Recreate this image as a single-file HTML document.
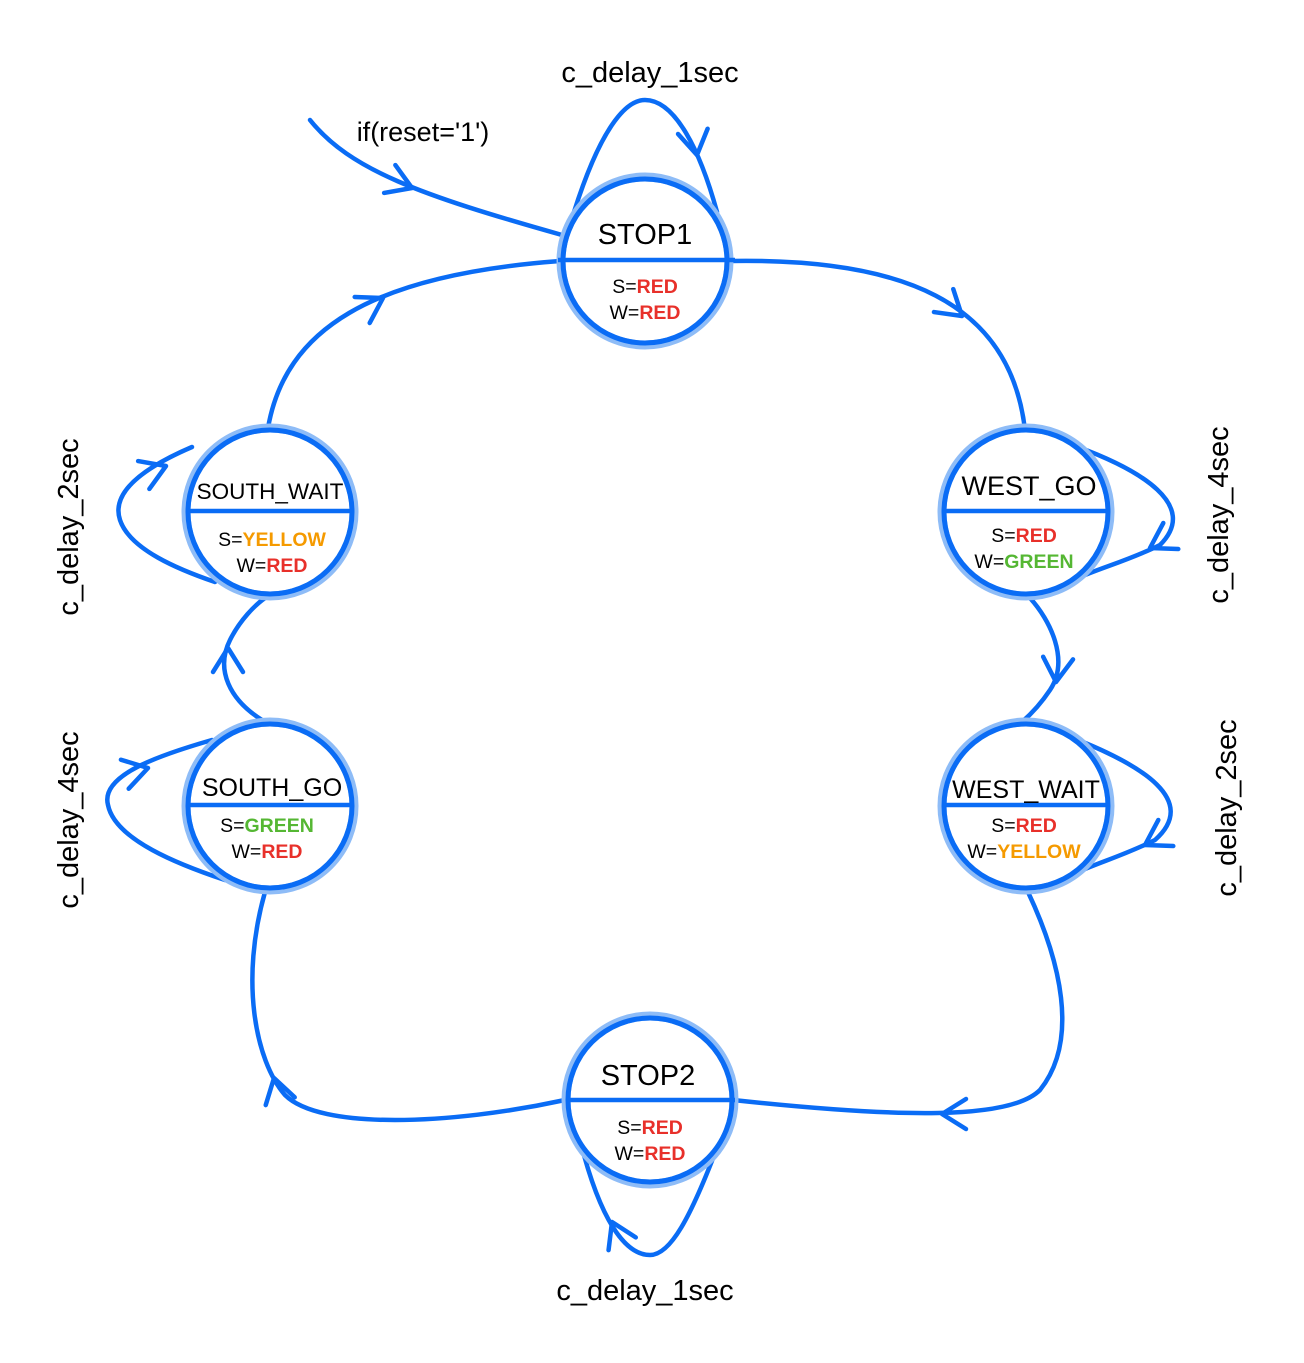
<!DOCTYPE html>
<html><head><meta charset="utf-8"><style>
html,body{margin:0;padding:0;background:#fff}
svg{display:block}
text{font-family:"Liberation Sans",Arial,sans-serif}
</style></head><body>
<svg width="1304" height="1363" viewBox="0 0 1304 1363" xmlns="http://www.w3.org/2000/svg">
<g fill="none" stroke="#0a6cf5" stroke-width="4.5" stroke-linecap="round" stroke-linejoin="round">
<path d="M310,120 C350,170 420,195 562,235"/>
<path d="M574,212 C600,130 625,100 645,100 C675,100 700,150 717,212"/>
<path d="M730,261 C900,258 1010,300 1025,430"/>
<path d="M1078,447 C1140,470 1200,505 1160,545 C1130,560 1100,568 1078,578"/>
<path d="M1030,598 C1050,620 1070,660 1050,690 C1040,705 1030,715 1022,722"/>
<path d="M1078,740 C1140,765 1200,800 1155,840 C1125,855 1100,862 1078,872"/>
<path d="M1028,892 C1060,960 1080,1040 1040,1090 C1010,1120 900,1118 733,1100"/>
<path d="M580,1140 C600,1220 625,1255 650,1255 C670,1255 690,1220 720,1140"/>
<path d="M565,1100 C450,1125 320,1130 285,1095 C255,1060 240,980 265,892"/>
<path d="M212,740 C160,755 100,775 108,805 C115,840 180,865 225,880"/>
<path d="M262,720 C230,700 215,670 230,640 C240,620 255,605 265,598"/>
<path d="M192,447 C150,465 110,490 120,520 C130,550 180,570 215,582"/>
<path d="M268,428 C285,330 370,275 560,261"/>
<g stroke-width="4.5">
<path transform="translate(412,188) rotate(22)" d="M-24,-15 L0,0 L-24,15"/>
<path transform="translate(697,155) rotate(80)" d="M-24,-15 L0,0 L-24,15"/>
<path transform="translate(962,316) rotate(40)" d="M-24,-15 L0,0 L-24,15"/>
<path transform="translate(1150,548) rotate(150)" d="M-24,-15 L0,0 L-24,15"/>
<path transform="translate(1056,682) rotate(95)" d="M-24,-15 L0,0 L-24,15"/>
<path transform="translate(1145,845) rotate(150)" d="M-24,-15 L0,0 L-24,15"/>
<path transform="translate(942,1114) rotate(180)" d="M-24,-15 L0,0 L-24,15"/>
<path transform="translate(612,1222) rotate(-115)" d="M-24,-15 L0,0 L-24,15"/>
<path transform="translate(274,1078) rotate(-105)" d="M-24,-15 L0,0 L-24,15"/>
<path transform="translate(148,768) rotate(-15)" d="M-24,-15 L0,0 L-24,15"/>
<path transform="translate(228,648) rotate(-90)" d="M-24,-15 L0,0 L-24,15"/>
<path transform="translate(166,466) rotate(-22)" d="M-24,-15 L0,0 L-24,15"/>
<path transform="translate(383,298) rotate(-30)" d="M-24,-15 L0,0 L-24,15"/>
</g>
</g>
<g fill="#fff">
<circle cx="645" cy="261" r="84" stroke="#8ebcf7" stroke-width="9"/>
<circle cx="645" cy="261" r="82" stroke="#0a6cf5" stroke-width="5" fill="none"/>
<circle cx="1026" cy="512" r="84" stroke="#8ebcf7" stroke-width="9"/>
<circle cx="1026" cy="512" r="82" stroke="#0a6cf5" stroke-width="5" fill="none"/>
<circle cx="1026" cy="806" r="84" stroke="#8ebcf7" stroke-width="9"/>
<circle cx="1026" cy="806" r="82" stroke="#0a6cf5" stroke-width="5" fill="none"/>
<circle cx="650" cy="1100" r="84" stroke="#8ebcf7" stroke-width="9"/>
<circle cx="650" cy="1100" r="82" stroke="#0a6cf5" stroke-width="5" fill="none"/>
<circle cx="270" cy="806" r="84" stroke="#8ebcf7" stroke-width="9"/>
<circle cx="270" cy="806" r="82" stroke="#0a6cf5" stroke-width="5" fill="none"/>
<circle cx="270" cy="512" r="84" stroke="#8ebcf7" stroke-width="9"/>
<circle cx="270" cy="512" r="82" stroke="#0a6cf5" stroke-width="5" fill="none"/>
</g>
<g stroke="#0a6cf5" stroke-width="4.5">
<line x1="558" y1="260" x2="735" y2="260"/>
<line x1="944" y1="511" x2="1108" y2="511"/>
<line x1="944" y1="805" x2="1108" y2="805"/>
<line x1="566" y1="1100" x2="735" y2="1100"/>
<line x1="188" y1="805" x2="352" y2="805"/>
<line x1="188" y1="511" x2="352" y2="511"/>
</g>
<g text-anchor="middle" fill="#000">
<text x="645" y="244" font-size="29">STOP1</text>
<text x="1029" y="495" font-size="27">WEST_GO</text>
<text x="1026" y="798" font-size="25">WEST_WAIT</text>
<text x="648" y="1085" font-size="29">STOP2</text>
<text x="272" y="796" font-size="25">SOUTH_GO</text>
<text x="270" y="499" font-size="22.5">SOUTH_WAIT</text>
<g font-size="19.5">
<text x="645" y="293">S=<tspan fill="#e8302a" font-weight="bold">RED</tspan></text>
<text x="645" y="319">W=<tspan fill="#e8302a" font-weight="bold">RED</tspan></text>
<text x="1024" y="542">S=<tspan fill="#e8302a" font-weight="bold">RED</tspan></text>
<text x="1024" y="568">W=<tspan fill="#55b733" font-weight="bold">GREEN</tspan></text>
<text x="1024" y="832">S=<tspan fill="#e8302a" font-weight="bold">RED</tspan></text>
<text x="1024" y="858">W=<tspan fill="#f59a00" font-weight="bold">YELLOW</tspan></text>
<text x="650" y="1134">S=<tspan fill="#e8302a" font-weight="bold">RED</tspan></text>
<text x="650" y="1160">W=<tspan fill="#e8302a" font-weight="bold">RED</tspan></text>
<text x="267" y="832">S=<tspan fill="#55b733" font-weight="bold">GREEN</tspan></text>
<text x="267" y="858">W=<tspan fill="#e8302a" font-weight="bold">RED</tspan></text>
<text x="272" y="546">S=<tspan fill="#f59a00" font-weight="bold">YELLOW</tspan></text>
<text x="272" y="572">W=<tspan fill="#e8302a" font-weight="bold">RED</tspan></text>
</g>
<g font-size="29">
<text x="650" y="82">c_delay_1sec</text>
<text x="645" y="1300">c_delay_1sec</text>
<text x="423" y="141" font-size="27">if(reset='1')</text>
<text transform="translate(78,527) rotate(-90)">c_delay_2sec</text>
<text transform="translate(78,820) rotate(-90)">c_delay_4sec</text>
<text transform="translate(1228,515) rotate(-90)">c_delay_4sec</text>
<text transform="translate(1236,808) rotate(-90)">c_delay_2sec</text>
</g>
</g>
</svg>
</body></html>
